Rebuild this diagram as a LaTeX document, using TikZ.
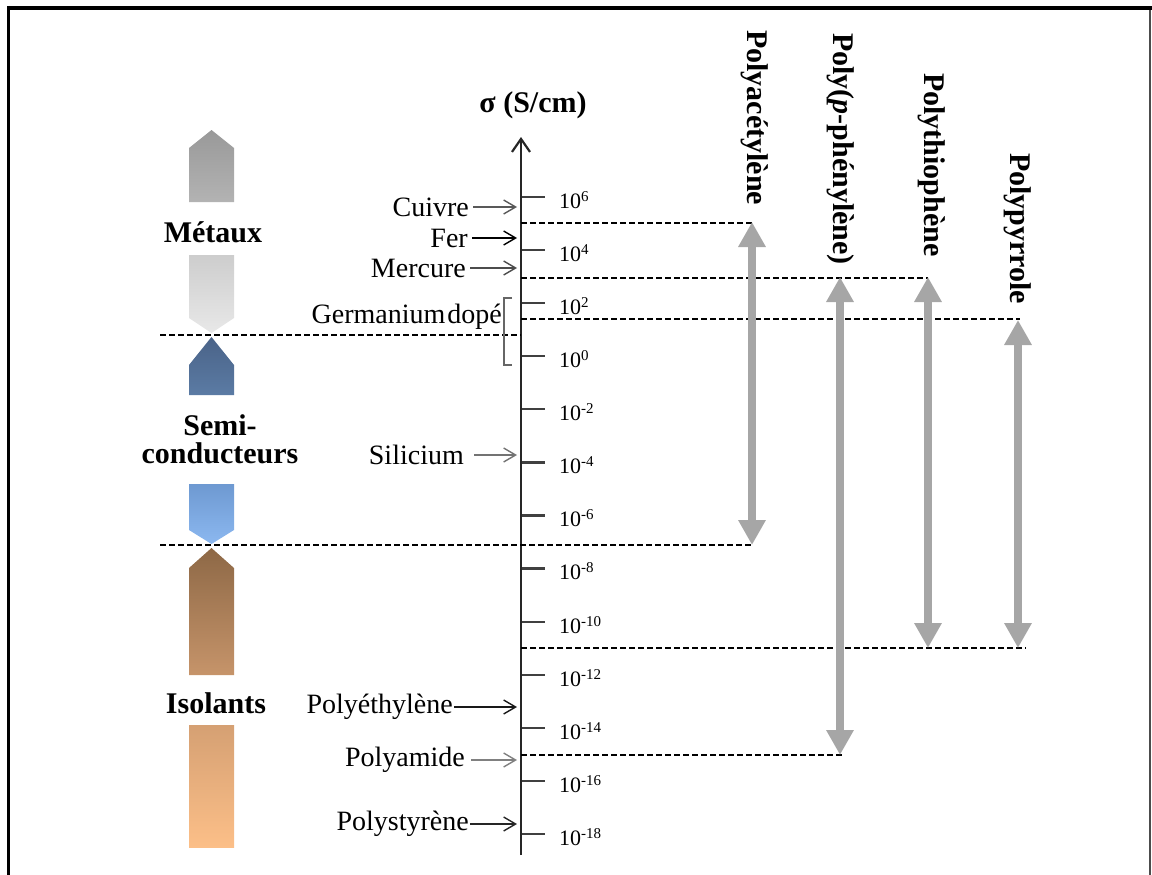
\documentclass[tikz,border=0pt]{standalone}
\usepackage{fontspec}
\setmainfont{Liberation Serif}
\usetikzlibrary{arrows.meta}
\definecolor{metA}{HTML}{999999}
\definecolor{metB}{HTML}{B3B3B3}
\definecolor{metC}{HTML}{CDCDCD}
\definecolor{metD}{HTML}{E8E8E8}
\definecolor{semA}{HTML}{4A6388}
\definecolor{semB}{HTML}{5B7BA4}
\definecolor{semC}{HTML}{6E99D1}
\definecolor{semD}{HTML}{8CB8F0}
\definecolor{isoA}{HTML}{8D6846}
\definecolor{isoB}{HTML}{C6946A}
\definecolor{isoC}{HTML}{D5A073}
\definecolor{isoD}{HTML}{FCBF88}
\definecolor{rangegray}{HTML}{A6A6A6}
\begin{document}
\begin{tikzpicture}[x=1pt,y=-1pt,
  lbl/.style={font=\fontsize{28}{30}\selectfont, inner sep=0pt, anchor=east},
  cat/.style={font=\fontsize{30}{28}\selectfont\bfseries, inner sep=0pt, align=center},
  polylbl/.style={font=\fontsize{30}{32}\selectfont\bfseries, inner sep=0pt, rotate=-90, anchor=west},
  tickln/.style={line width=2.2pt, draw=black!75},
  tlabel/.style={font=\fontsize{22}{23}\selectfont, inner sep=0pt, anchor=west},
  ptr/.style={line width=1.4pt, shorten <=4pt, -{Straight Barb[length=12pt,width=14pt,line width=1.4pt]}},
  dline/.style={dash pattern=on 6pt off 3pt, line width=1.3pt},
  rng/.style={draw=rangegray, line width=8pt, {Triangle[width=26pt,length=25pt]}-{Triangle[width=26pt,length=25pt]}},
]
\useasboundingbox (0,0) rectangle (1152,875);
% frame
\draw[line width=4pt] (7,8) -- (1152,8);
\draw[line width=3pt] (8.5,6) -- (8.5,875);
\draw[line width=2pt, black!70] (1150,10) -- (1150,875);

% left category shapes
\shade[top color=metA, bottom color=metB] (189,148) -- (211.5,130) -- (234,148) -- (234,202) -- (189,202) -- cycle;
\shade[top color=metC, bottom color=metD] (189,255) -- (234,255) -- (234,318) -- (211.5,333) -- (189,318) -- cycle;
\shade[top color=semA, bottom color=semB] (189,365) -- (211.5,337) -- (234,365) -- (234,395) -- (189,395) -- cycle;
\shade[top color=semC, bottom color=semD] (189,484) -- (234,484) -- (234,530) -- (211.5,544) -- (189,530) -- cycle;
\shade[top color=isoA, bottom color=isoB] (189,568) -- (211.5,548) -- (234,568) -- (234,675) -- (189,675) -- cycle;
\shade[top color=isoC, bottom color=isoD] (189,725) rectangle (234,847);

\node[cat] (metaux) at (213,232) {Métaux};
\node[cat] (semi) at (220,439) {Semi-\\conducteurs};
\node[cat] (isol) at (216,703) {Isolants};

% axis
\coordinate (axbot) at (521,855);
\coordinate (axtop) at (521,137);
\draw[line width=2.5pt, black!85, -{Straight Barb[length=13pt,width=18pt,line width=2.2pt]}] (axbot) -- (axtop);
\node[font=\fontsize{30}{32}\selectfont\bfseries, inner sep=0pt] (sigma) at (533,105) {σ (S/cm)};

% ticks and labels
\foreach \e [count=\k from 0] in {6,4,2,0,-2,-4,-6,-8,-10,-12,-14,-16,-18}{
  \pgfmathsetmacro\yy{197+53.08*\k}
  \coordinate (ta\k) at (522,\yy);
  \coordinate (tb\k) at (545,\yy);
  \draw[tickln] (ta\k) -- (tb\k);
  \node[tlabel] (tl\k) at (559,\yy+3) {10\raisebox{7pt}{\fontsize{15}{15}\selectfont\e}};
}

% dashed guide lines
\coordinate (d1a) at (521,223);  \coordinate (d1b) at (752,223);
\coordinate (d2a) at (521,278);  \coordinate (d2b) at (928,278);
\coordinate (d3a) at (521,319);  \coordinate (d3b) at (1020,319);
\coordinate (d4a) at (160,335);  \coordinate (d4b) at (521,335);
\coordinate (d5a) at (160,545);  \coordinate (d5b) at (752,545);
\coordinate (d6a) at (521,648);  \coordinate (d6b) at (1026,648);
\coordinate (d7a) at (521,755);  \coordinate (d7b) at (842,755);
\foreach \i in {1,...,7}{ \draw[dline] (d\i a) -- (d\i b); }

% polymer ranges
\coordinate (pa1) at (752,222); \coordinate (pa2) at (752,545);
\coordinate (pb1) at (840,277); \coordinate (pb2) at (840,755);
\coordinate (pc1) at (928,277); \coordinate (pc2) at (928,648);
\coordinate (pd1) at (1018,320); \coordinate (pd2) at (1018,648);
\draw[rng] (pa1) -- (pa2);
\draw[rng] (pb1) -- (pb2);
\draw[rng] (pc1) -- (pc2);
\draw[rng] (pd1) -- (pd2);

\node[polylbl] (pac) at (755,30) {Polyacétylène};
\node[polylbl] (ppp) at (841,33) {Poly(\textit{p}-phénylène)};
\node[polylbl] (pth) at (932,73) {Polythiophène};
\node[polylbl] (ppy) at (1018,153) {Polypyrrole};

% materials
\node[lbl] (cu) at (469,207) {Cuivre};
\node[lbl] (fe) at (468,238) {Fer};
\node[lbl] (hg) at (466,268) {Mercure};
\node[lbl] (ge) at (502,317) {Germanium\hspace{2pt}dopé};
\node[lbl] (si) at (464,455) {Silicium};
\node[lbl] (pe) at (453,707) {Polyéthylène};
\node[lbl] (pa) at (465,760) {Polyamide};
\node[lbl] (ps) at (469,824) {Polystyrène};

\coordinate (cuT) at (517,207);
\coordinate (feT) at (517,238);
\coordinate (hgT) at (517,268);
\coordinate (siT) at (517,455);
\coordinate (peT) at (517,707);
\coordinate (paT) at (517,760);
\coordinate (psT) at (517,824);
\draw[ptr, black!65] (cu) -- (cuT);
\draw[ptr, black] (fe) -- (feT);
\draw[ptr, black!70] (hg) -- (hgT);
\draw[ptr, black!55, shorten <=10pt] (si) -- (siT);
\draw[ptr, black!90, shorten <=1pt] (pe) -- (peT);
\draw[ptr, black!50, shorten <=6pt] (pa) -- (paT);
\draw[ptr, black!85, shorten <=1pt] (ps) -- (psT);

% germanium bracket
\coordinate (gb1) at (512,298);
\coordinate (gb2) at (504,298);
\coordinate (gb3) at (504,365);
\coordinate (gb4) at (512,365);
\draw[line width=1.3pt, black!60] (gb1) -- (gb2) -- (gb3) -- (gb4);
\end{tikzpicture}
\end{document}
